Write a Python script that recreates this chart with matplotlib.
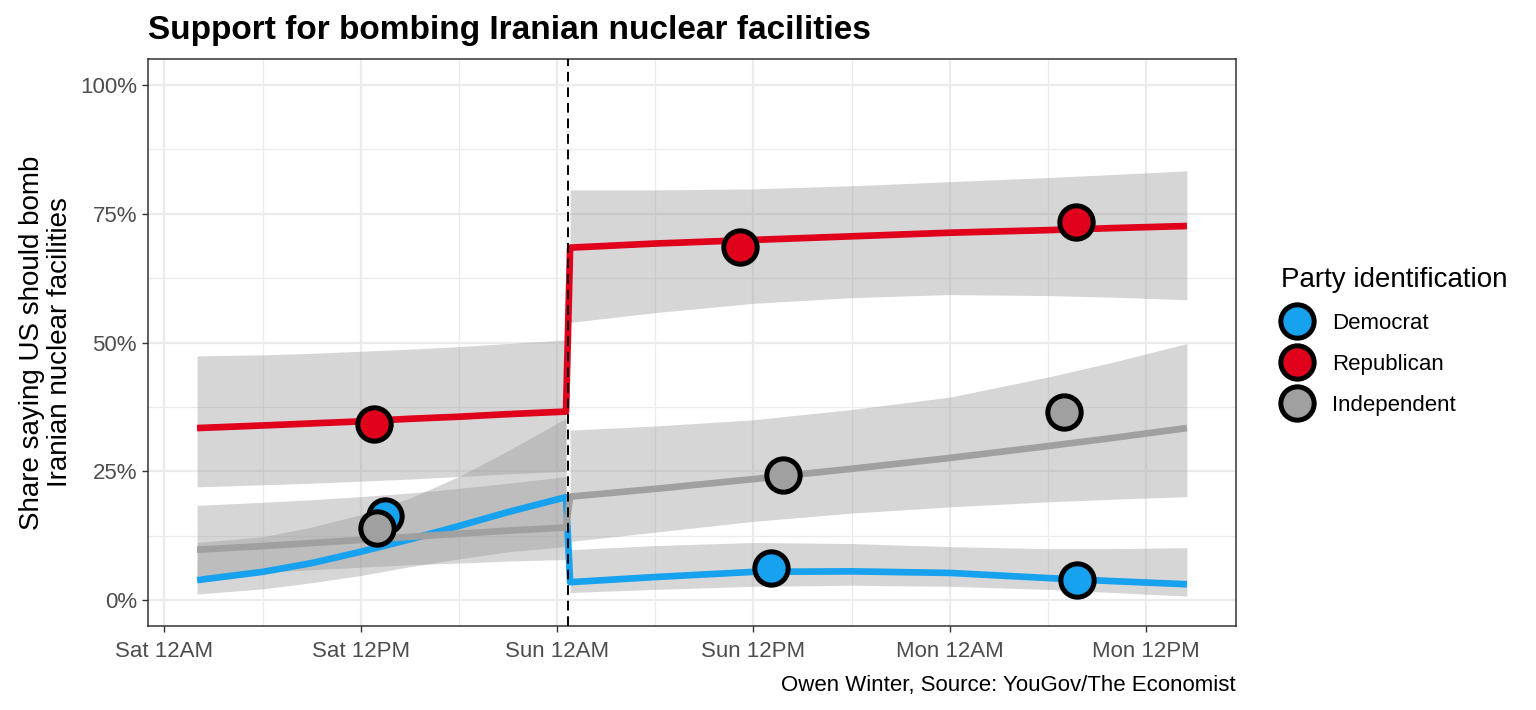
import matplotlib

matplotlib.use("Agg")
import matplotlib.pyplot as plt
from matplotlib.lines import Line2D
import numpy as np

plt.rcParams["font.family"] = ["Liberation Sans", "DejaVu Sans"]

# hours since Saturday 12AM
BREAK_HOUR = 24.68
PRE_X = [2, 6, 9, 12, 15, 18, 21, 24.55]
POST_X = [24.8, 30, 36, 42, 48, 54, 58, 62.5]

PARTIES = ["Democrat", "Republican", "Independent"]
COLORS = {
    "Democrat": "#17A2F0",
    "Republican": "#E0001B",
    "Independent": "#A0A0A0",
}

# smoothed fit, lower and upper band (percent)
DEM_PRE = [3.9, 5.5, 7.2, 9.4, 11.8, 14.4, 17.1, 20.0]
DEM_PRE_LO = [1.2, 2.2, 3.4, 4.8, 6.5, 8.0, 9.4, 10.4]
DEM_PRE_HI = [11.2, 12.3, 14.2, 16.6, 19.8, 24.0, 29.0, 35.3]
DEM_POST = [3.5, 4.5, 5.5, 5.6, 5.3, 4.3, 3.7, 3.1]
DEM_POST_LO = [1.5, 2.1, 2.7, 2.9, 2.7, 2.1, 1.5, 0.8]
DEM_POST_HI = [9.8, 10.6, 11.2, 11.0, 10.4, 10.0, 10.0, 10.2]

REP_PRE = [33.4, 33.9, 34.3, 34.7, 35.2, 35.6, 36.1, 36.6]
REP_PRE_LO = [22.0, 22.4, 22.7, 23.1, 23.5, 24.0, 24.5, 25.0]
REP_PRE_HI = [47.4, 47.6, 47.9, 48.3, 48.7, 49.2, 49.8, 50.5]
REP_POST = [68.4, 69.2, 69.9, 70.6, 71.3, 71.8, 72.2, 72.6]
REP_POST_LO = [53.9, 55.8, 57.6, 58.7, 59.3, 59.1, 58.8, 58.3]
REP_POST_HI = [79.6, 79.6, 79.8, 80.4, 81.2, 82.0, 82.6, 83.3]

IND_PRE = [9.8, 10.5, 11.1, 11.7, 12.3, 12.9, 13.5, 14.1]
IND_PRE_LO = [4.7, 5.4, 5.9, 6.4, 6.9, 7.2, 7.6, 7.9]
IND_PRE_HI = [18.4, 19.0, 19.5, 20.1, 20.8, 21.7, 22.7, 24.0]
IND_POST = [20.1, 21.6, 23.5, 25.5, 27.6, 29.9, 31.5, 33.4]
IND_POST_LO = [11.4, 13.2, 15.3, 16.9, 18.1, 19.1, 19.6, 20.1]
IND_POST_HI = [33.0, 33.8, 35.0, 37.0, 39.4, 43.3, 46.2, 49.8]

# poll results
POINT_X = {
    "Democrat": [13.5, 37.1, 55.8],
    "Republican": [12.8, 35.2, 55.75],
    "Independent": [13.0, 37.8, 55.0],
}
POINT_Y = {
    "Democrat": [16.3, 6.2, 3.9],
    "Republican": [34.1, 68.6, 73.4],
    "Independent": [14.0, 24.3, 36.5],
}

FITS = {
    "Democrat": (DEM_PRE, DEM_PRE_LO, DEM_PRE_HI, DEM_POST, DEM_POST_LO, DEM_POST_HI),
    "Republican": (REP_PRE, REP_PRE_LO, REP_PRE_HI, REP_POST, REP_POST_LO, REP_POST_HI),
    "Independent": (IND_PRE, IND_PRE_LO, IND_PRE_HI, IND_POST, IND_POST_LO, IND_POST_HI),
}

TICK_HOURS = [0, 12, 24, 36, 48, 60]
TICK_LABELS = ["Sat 12AM", "Sat 12PM", "Sun 12AM", "Sun 12PM", "Mon 12AM", "Mon 12PM"]

W, H = 1536, 710
fig = plt.figure(figsize=(W / 100, H / 100), dpi=100)
ax = fig.add_axes([148 / W, 1 - 626 / H, (1236 - 148) / W, (626 - 59) / H])

# grid
for y in [0, 25, 50, 75, 100]:
    ax.axhline(y / 100, color="#EBEBEB", lw=1.6, zorder=0)
for y in [12.5, 37.5, 62.5, 87.5]:
    ax.axhline(y / 100, color="#EBEBEB", lw=0.9, zorder=0)
for x in TICK_HOURS:
    ax.axvline(x, color="#EBEBEB", lw=1.6, zorder=0)
for x in [6, 18, 30, 42, 54]:
    ax.axvline(x, color="#EBEBEB", lw=0.9, zorder=0)

pre_x = np.array(PRE_X)
post_x = np.array(POST_X)

for party in PARTIES:
    pre, pre_lo, pre_hi, post, post_lo, post_hi = FITS[party]
    ax.fill_between(pre_x, np.array(pre_lo) / 100, np.array(pre_hi) / 100,
                    color="#999999", alpha=0.4, lw=0, zorder=1)
    ax.fill_between(post_x, np.array(post_lo) / 100, np.array(post_hi) / 100,
                    color="#999999", alpha=0.4, lw=0, zorder=1)

for party in PARTIES:
    pre, pre_lo, pre_hi, post, post_lo, post_hi = FITS[party]
    xs = np.concatenate([pre_x, post_x])
    ys = np.concatenate([pre, post]) / 100
    ax.plot(xs, ys, color=COLORS[party], lw=4.8, solid_joinstyle="round",
            solid_capstyle="butt", zorder=3)

ax.axvline(BREAK_HOUR, color="black", lw=1.4, ls=(0, (5, 3)), zorder=4)

for party in PARTIES:
    ax.plot(POINT_X[party], np.array(POINT_Y[party]) / 100, ls="none", marker="o",
            ms=24, mfc=COLORS[party], mec="black", mew=3.6, zorder=5)

ax.set_xlim(-1.0, 65.5)
ax.set_ylim(-0.05, 1.05)
ax.set_xticks(TICK_HOURS)
ax.set_xticklabels(TICK_LABELS)
ax.set_yticks([0, 0.25, 0.5, 0.75, 1.0])
ax.set_yticklabels(["0%", "25%", "50%", "75%", "100%"])
ax.tick_params(axis="both", labelsize=16, labelcolor="#4D4D4D", color="#333333",
               length=4, width=1)
ax.tick_params(axis="x", pad=7)
ax.tick_params(axis="y", pad=4)

for spine in ax.spines.values():
    spine.set_color("#333333")
    spine.set_linewidth(1.1)

ax.set_ylabel("Share saying US should bomb\nIranian nuclear facilities", fontsize=20,
              labelpad=5, linespacing=1.1)

fig.text(148 / W, 1 - 30 / H, "Support for bombing Iranian nuclear facilities",
         fontsize=24, fontweight="bold", ha="left", va="center")
fig.text(1236 / W, 1 - 685 / H, "Owen Winter, Source: YouGov/The Economist",
         fontsize=16, ha="right", va="center")

handles = [
    Line2D([], [], ls="none", marker="o", ms=24, mfc=COLORS[p], mec="black", mew=3.6)
    for p in PARTIES
]
leg = fig.legend(handles, PARTIES, title="Party identification", loc="upper left",
                 bbox_to_anchor=(1270 / W, 1 - 256 / H), frameon=False, fontsize=16,
                 title_fontsize=20, alignment="left", handlelength=1.4,
                 handletextpad=0.9, labelspacing=0.9, borderpad=0)

fig.savefig("out.png", dpi=100)
